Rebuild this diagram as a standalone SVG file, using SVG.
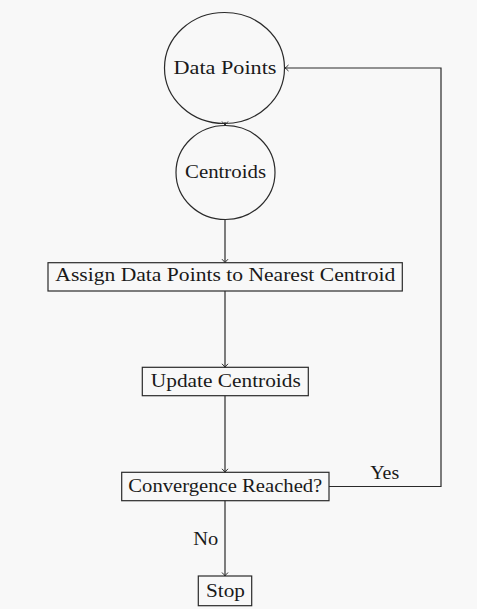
<svg xmlns="http://www.w3.org/2000/svg" width="477" height="609" viewBox="0 0 477 609">
<style>
.bg{fill:#f8f8f8}
.node{fill:none;stroke:#2a2a2a;stroke-width:1.2}
.t{font-family:"Liberation Serif","Times New Roman",serif;font-size:18px;fill:#1a1a1a;text-anchor:middle}
.conn{fill:none;stroke:#2a2a2a;stroke-width:1.2}
</style>
<defs>
<marker id="arr" viewBox="-5 -4 6 8" refX="0" refY="0" markerWidth="6" markerHeight="8" markerUnits="userSpaceOnUse" orient="auto">
<path d="M-3.5,-3 Q-1,-0.6 0,0 Q-1,0.6 -3.5,3" fill="none" stroke="#2a2a2a" stroke-width="1"/>
</marker>
</defs>
<rect class="bg" x="0" y="0" width="477" height="609"/>
<g id="connectors">
<line class="conn" x1="225" y1="122" x2="225" y2="125" marker-end="url(#arr)"/>
<line class="conn" x1="225" y1="219.5" x2="225" y2="262.7" marker-end="url(#arr)"/>
<line class="conn" x1="225" y1="291" x2="225" y2="367.3" marker-end="url(#arr)"/>
<line class="conn" x1="225" y1="395.7" x2="225" y2="472.3" marker-end="url(#arr)"/>
<line class="conn" x1="225" y1="500.7" x2="225" y2="576" marker-end="url(#arr)"/>
<path class="conn" d="M329,486.5 H441 V68 H285" marker-end="url(#arr)"/>
<text class="t" x="205.8" y="545" textLength="25" lengthAdjust="spacingAndGlyphs">No</text>
<text class="t" x="384.7" y="479.3" textLength="29" lengthAdjust="spacingAndGlyphs">Yes</text>
</g>
<g id="data-points">
<ellipse class="node" cx="224.5" cy="68" rx="60" ry="55.5"/>
<text class="t" x="225" y="74.3" textLength="103" lengthAdjust="spacingAndGlyphs">Data Points</text>
</g>
<g id="centroids">
<ellipse class="node" cx="225.5" cy="172.5" rx="49.5" ry="47"/>
<text class="t" x="225.5" y="178.3" textLength="81" lengthAdjust="spacingAndGlyphs">Centroids</text>
</g>
<g id="assign">
<rect class="node" x="48" y="262.7" width="354.3" height="28.3"/>
<text class="t" x="225.3" y="280.8" textLength="340" lengthAdjust="spacingAndGlyphs">Assign Data Points to Nearest Centroid</text>
</g>
<g id="update">
<rect class="node" x="142.3" y="367.3" width="166" height="28.4"/>
<text class="t" x="225.8" y="386.7" textLength="150" lengthAdjust="spacingAndGlyphs">Update Centroids</text>
</g>
<g id="convergence">
<rect class="node" x="121.7" y="472.3" width="207.3" height="28.4"/>
<text class="t" x="225.3" y="491.7" textLength="194" lengthAdjust="spacingAndGlyphs">Convergence Reached?</text>
</g>
<g id="stop">
<rect class="node" x="198.3" y="576" width="53.4" height="29.7"/>
<text class="t" x="225.5" y="596.5" textLength="39" lengthAdjust="spacingAndGlyphs">Stop</text>
</g>
</svg>
